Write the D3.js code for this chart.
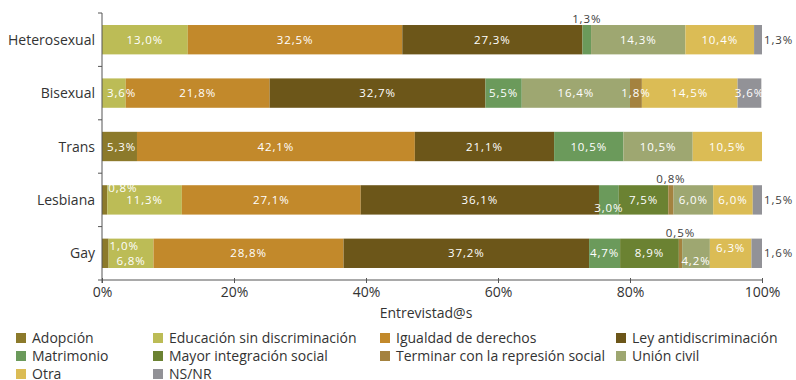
<!DOCTYPE html>
<html>
<head>
<meta charset="utf-8">
<script src="https://cdn.jsdelivr.net/npm/d3@7"></script>
<style>
  html, body { margin: 0; padding: 0; background: #fff; }
  svg { display: block; }
  text { font-family: "Open Sans", "Noto Sans", sans-serif; }
</style>
</head>
<body>
<svg id="chart" width="796" height="380"></svg>
<script>
// Respuestas por orientación / identidad (porcentaje de entrevistad@s)
const categories = ["Heterosexual", "Bisexual", "Trans", "Lesbiana", "Gay"];
const seriesNames = [
  "Adopción", "Educación sin discriminación", "Igualdad de derechos",
  "Ley antidiscriminación", "Matrimonio", "Mayor integración social",
  "Terminar con la represión social", "Unión civil", "Otra", "NS/NR"
];
const adopcion     = [0,    0,    5.3,  0.8,  1.0];
const educacion    = [13.0, 3.6,  0,    11.3, 6.8];
const igualdad     = [32.5, 21.8, 42.1, 27.1, 28.8];
const ley          = [27.3, 32.7, 21.1, 36.1, 37.2];
const matrimonio   = [1.3,  5.5,  10.5, 3.0,  4.7];
const integracion  = [0,    0,    0,    7.5,  8.9];
const terminar     = [0,    1.8,  0,    0.8,  0.5];
const unionCivil   = [14.3, 16.4, 10.5, 6.0,  4.2];
const otra         = [10.4, 14.5, 10.5, 6.0,  6.3];
const nsnr         = [1.3,  3.6,  0,    1.5,  1.6];
const xTicks = [0, 20, 40, 60, 80, 100];
const axisTitle = "Entrevistad@s";

const seriesValues = [adopcion, educacion, igualdad, ley, matrimonio,
                      integracion, terminar, unionCivil, otra, nsnr];
const colors = ["#8c7a2b", "#bcbc56", "#c2892b", "#6c5619", "#6b9a5b",
                "#6b8232", "#a4823f", "#9ea771", "#dbbc55", "#929297"];

// In the Bisexual bar "Unión civil" is drawn before "Terminar con la represión social"
const rowOrder = {
  "Bisexual": [0, 1, 2, 3, 4, 5, 7, 6, 8, 9]
};
const defaultOrder = d3.range(seriesNames.length);

// How the small value labels are placed: above / right of the bar, or inside near top / bottom
const labelPlacement = [
  { row: "Heterosexual", s: 4, pos: "above" },
  { row: "Heterosexual", s: 9, pos: "right" },
  { row: "Bisexual", s: 1, pos: "start" },
  { row: "Trans", s: 0, pos: "start" },
  { row: "Lesbiana", s: 0, pos: "cornerAfter" },
  { row: "Lesbiana", s: 4, pos: "bottom" },
  { row: "Lesbiana", s: 6, pos: "above" },
  { row: "Lesbiana", s: 9, pos: "right" },
  { row: "Gay", s: 0, pos: "topAfter" },
  { row: "Gay", s: 1, pos: "bottom" },
  { row: "Gay", s: 6, pos: "above" },
  { row: "Gay", s: 7, pos: "bottom" },
  { row: "Gay", s: 8, pos: "top" },
  { row: "Gay", s: 9, pos: "right" }
];

const svg = d3.select("#chart");
const plotLeft = 102, plotRight = 762, plotTop = 13, plotBottom = 280;

const x = d3.scaleLinear().domain([0, 100]).range([plotLeft, plotRight]);
const y = d3.scaleBand().domain(categories).range([plotTop, plotBottom])
  .paddingInner(0.45).paddingOuter(0.225);

const fmt = v => d3.format(".1f")(v).replace(".", ",") + "%";

// Build stacked segments
const segments = [];
categories.forEach((cat, ci) => {
  let acc = 0;
  (rowOrder[cat] || defaultOrder).forEach(si => {
    const v = seriesValues[si][ci];
    if (v > 0) {
      segments.push({ cat, si, v, x0: acc, x1: acc + v });
    }
    acc += v;
  });
});

const g = svg.append("g");
g.selectAll("rect.seg").data(segments).join("rect")
  .attr("class", "seg")
  .attr("x", d => x(d.x0))
  .attr("y", d => y(d.cat))
  .attr("width", d => Math.min(x(d.x1), plotRight) - x(d.x0))
  .attr("height", y.bandwidth())
  .attr("fill", d => colors[d.si]);

// Value labels
const dark = "#3d3d3d";
const labels = g.append("g");
segments.forEach(d => {
  const p = labelPlacement.find(l => l.row === d.cat && l.s === d.si);
  const pos = p ? p.pos : "center";
  const yt = y(d.cat), yc = yt + y.bandwidth() / 2;
  const xc = (x(d.x0) + x(Math.min(d.x1, 100))) / 2;
  let tx = xc, ty = yc, anchor = "middle", fill = "#fff";
  if (pos === "above") { ty = yt - 6; fill = dark; }
  else if (pos === "right") { tx = plotRight + 2; anchor = "start"; fill = dark; }
  else if (pos === "top") { ty = yc - 5; }
  else if (pos === "bottom") { ty = yc + 8; }
  else if (pos === "start") { tx = x(d.x0) + 5; anchor = "start"; }
  else if (pos === "topAfter") { tx = x(d.x1) + 1; anchor = "start"; ty = yc - 7.5; }
  else if (pos === "cornerAfter") { tx = x(d.x1) + 1; anchor = "start"; ty = yc - 12; }
  labels.append("text")
    .attr("x", tx).attr("y", ty)
    .attr("dy", "0.36em")
    .attr("text-anchor", anchor)
    .attr("fill", fill)
    .style("font-size", "11.5px")
    .style("letter-spacing", "0.9px")
    .text(fmt(d.v));
});

// X axis
const xAxis = svg.append("g")
  .attr("transform", `translate(0,${plotBottom})`)
  .call(d3.axisBottom(x).tickValues(xTicks).tickFormat(d => d + "%").tickSize(3).tickPadding(4));
xAxis.select(".domain").attr("stroke", "#555").attr("d", `M${plotLeft},0H${plotRight}`);
xAxis.selectAll(".tick line").attr("stroke", "#555").attr("y1", -2).attr("y2", 3);
xAxis.selectAll(".tick text").attr("fill", "#333")
  .style("font-size", "14px").style("font-family", "'Open Sans', sans-serif");

svg.append("text")
  .attr("x", 426).attr("y", 318)
  .attr("text-anchor", "middle")
  .attr("fill", "#333")
  .style("font-size", "14px")
  .text(axisTitle);

// Y axis: line, boundary ticks and category labels
const yAxis = svg.append("g");
yAxis.append("line")
  .attr("x1", plotLeft).attr("x2", plotLeft)
  .attr("y1", plotTop).attr("y2", plotBottom + 3)
  .attr("stroke", "#555");
const bounds = categories.map(c => y(c) - y.step() * y.paddingInner() / 2)
  .concat([plotBottom]);
yAxis.selectAll("line.bt").data(bounds).join("line")
  .attr("class", "bt")
  .attr("x1", plotLeft - 4).attr("x2", plotLeft)
  .attr("y1", d => d).attr("y2", d => d)
  .attr("stroke", "#555");
yAxis.selectAll("text").data(categories).join("text")
  .attr("x", plotLeft - 7)
  .attr("y", d => y(d) + y.bandwidth() / 2)
  .attr("dy", "0.36em")
  .attr("text-anchor", "end")
  .attr("fill", "#333")
  .style("font-size", "14px")
  .text(d => d);

// Legend: 4 columns, filled row by row
const legendCols = [16, 153, 380, 616];
const legendRows = [338, 356, 374];
const legend = svg.append("g");
seriesNames.forEach((name, i) => {
  const cx = legendCols[i % 4], cy = legendRows[Math.floor(i / 4)];
  legend.append("rect")
    .attr("x", cx).attr("y", cy - 5)
    .attr("width", 10).attr("height", 10)
    .attr("fill", colors[i]);
  legend.append("text")
    .attr("x", cx + 16).attr("y", cy)
    .attr("dy", "0.36em")
    .attr("fill", "#333")
    .style("font-size", "14px")
    .text(name);
});
</script>
</body>
</html>
